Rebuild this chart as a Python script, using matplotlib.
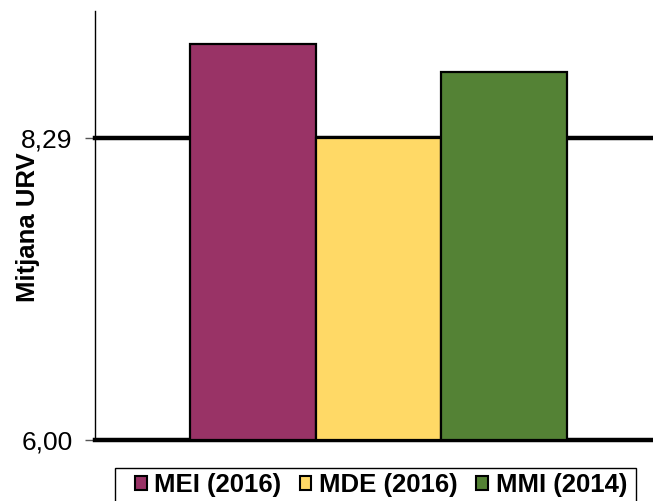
import matplotlib
matplotlib.use("Agg")
import matplotlib.pyplot as plt
from matplotlib.patches import Patch, Rectangle

# data
labels = ["MEI (2016)", "MDE (2016)", "MMI (2014)"]
values = [9.00, 8.29, 8.79]
colors = ["#993366", "#FFD966", "#548235"]
tick_vals = [6.00, 8.29]
tick_labels = ["6,00", "8,29"]

plt.rcParams['font.family'] = ['Liberation Sans', 'DejaVu Sans']

W, H = 653, 501
fig = plt.figure(figsize=(W / 100, H / 100), dpi=100)
ax = fig.add_axes([95 / W, 1 - 440 / H, 558 / W, 429 / H])

x = [0, 1, 2]
ax.bar(x, [v - 6.0 for v in values], bottom=6.0, width=1.0, color=colors,
       edgecolor="black", linewidth=1.6, zorder=3)

# thick reference lines
for v in tick_vals:
    ax.axhline(v, color="black", linewidth=3.2, zorder=2, clip_on=False)

ax.set_xlim(-1.259, 3.187)
ax.set_ylim(6.0, 9.25)
ax.set_xticks([])
ax.set_yticks(tick_vals)
ax.set_yticklabels(tick_labels, fontsize=19)
ax.tick_params(axis="y", length=7, width=1, color="#555555", pad=9)

for s in ["top", "right", "bottom"]:
    ax.spines[s].set_visible(False)
ax.spines["left"].set_linewidth(1.0)

ax.set_ylabel("Mitjana URV", fontsize=18.5, fontweight="bold")
ax.yaxis.set_label_coords(-0.099, 0.497)

# legend frame drawn by hand (text sits off-centre in the reference box)
fig.patches.append(Rectangle((115 / W, -0.02), (636 - 115) / W, 0.02 + 1 - 468 / H,
                             transform=fig.transFigure, facecolor="white",
                             edgecolor="black", linewidth=1.0, zorder=1))

handles = [Patch(facecolor=c, edgecolor="black", linewidth=1.5) for c in colors]
leg = fig.legend(handles, labels, loc="upper left", ncol=3,
                 bbox_to_anchor=(135 / W, 1 - 473 / H),
                 prop={"size": 18.5, "weight": "bold"},
                 handlelength=0.45, handleheight=0.45, handletextpad=0.3,
                 columnspacing=0.72, frameon=False,
                 borderpad=0, borderaxespad=0)
leg.set_zorder(2)

fig.savefig("out.png", dpi=100)
